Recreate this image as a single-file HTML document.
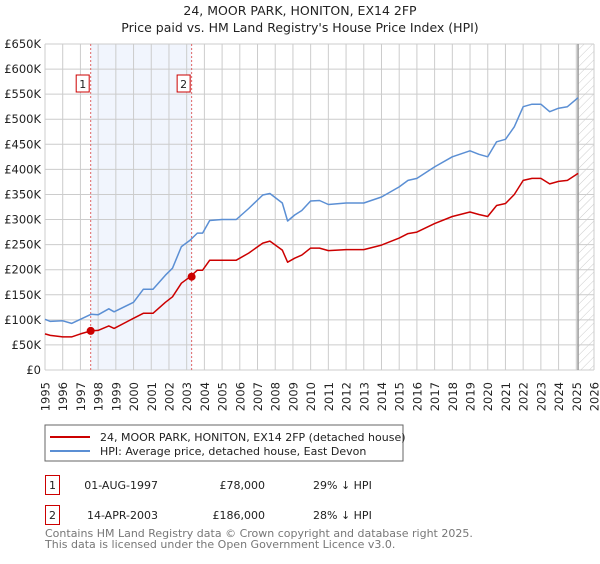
<!DOCTYPE html>
<html><head><meta charset="utf-8"><style>
body{margin:0;background:#fff;width:600px;height:560px;overflow:hidden;font-family:"DejaVu Sans","Liberation Sans",sans-serif}
svg text{font-family:"DejaVu Sans","Liberation Sans",sans-serif}
</style></head><body>
<svg id="chart" width="600" height="560" xmlns="http://www.w3.org/2000/svg">
<defs><pattern id="hatch" width="6" height="6" patternUnits="userSpaceOnUse" patternTransform="rotate(45)"><line x1="0" y1="0" x2="0" y2="6" stroke="#ccc" stroke-width="1"/></pattern></defs>
<text x="300" y="15" text-anchor="middle" font-size="12.5" fill="#222">24, MOOR PARK, HONITON, EX14 2FP</text>
<text x="300" y="32" text-anchor="middle" font-size="12.5" fill="#222">Price paid vs. HM Land Registry's House Price Index (HPI)</text>
<g id="grid"></g><g id="marks"></g><g id="axes"></g>
<rect x="45" y="425" width="358" height="36" fill="#fff" stroke="#666"/>
<line x1="50" y1="437" x2="90" y2="437" stroke="#cc0000" stroke-width="2"/>
<text x="100" y="441" font-size="11" fill="#222">24, MOOR PARK, HONITON, EX14 2FP (detached house)</text>
<line x1="50" y1="451" x2="90" y2="451" stroke="#5b8fd4" stroke-width="2"/>
<text x="100" y="455" font-size="11" fill="#222">HPI: Average price, detached house, East Devon</text>
<g font-size="11" fill="#222">
<rect x="45.5" y="475.5" width="14" height="19" fill="none" stroke="#cc0000"/>
<text x="52.5" y="489" text-anchor="middle">1</text>
<text x="158" y="489" text-anchor="end">01-AUG-1997</text>
<text x="265" y="489" text-anchor="end">£78,000</text>
<text x="313" y="489">29% ↓ HPI</text>
<rect x="45.5" y="505.5" width="14" height="19" fill="none" stroke="#cc0000"/>
<text x="52.5" y="519" text-anchor="middle">2</text>
<text x="158" y="519" text-anchor="end">14-APR-2003</text>
<text x="265" y="519" text-anchor="end">£186,000</text>
<text x="313" y="519">28% ↓ HPI</text>
</g>
<text x="45" y="537" font-size="11" fill="#777">Contains HM Land Registry data © Crown copyright and database right 2025.</text>
<text x="45" y="548" font-size="11" fill="#777">This data is licensed under the Open Government Licence v3.0.</text>
</svg>
<script>
const hpiYears=[1995,1995.3,1996,1996.5,1997,1997.6,1998,1998.6,1998.9,2000,2000.55,2001.1,2001.8,2002.2,2002.7,2003.2,2003.6,2003.9,2004.3,2005,2005.8,2006.5,2007.3,2007.7,2008.4,2008.7,2009.1,2009.5,2010,2010.5,2011,2012,2013,2014,2015,2015.5,2016,2017,2018,2019,2019.5,2020,2020.5,2021,2021.5,2022,2022.5,2023,2023.5,2024,2024.5,2025.1];
const hpiValues=[101,97,98,93,101,111,110,122,116,135,161,161,189,203,246,259,273,273,298,300,300,322,349,352,333,297,309,318,337,338,330,333,333,345,365,378,382,405,425,437,430,425,455,460,485,525,530,530,515,522,525,543];
const ppValues=[72,69,66,66,72,78,79,88,83,103,113,113,135,146,173,186,199,199,219,219,219,233,253,257,239,215,223,229,243,243,238,240,240,249,263,272,275,292,306,315,310,306,328,332,350,378,382,382,371,376,378,392];
const sales=[{n:'1',year:1997.58,value:78},{n:'2',year:2003.28,value:186}];
const yTicks=[0,50,100,150,200,250,300,350,400,450,500,550,600,650];
const yLabels=['£0','£50K','£100K','£150K','£200K','£250K','£300K','£350K','£400K','£450K','£500K','£550K','£600K','£650K'];
const xTicks=[1995,1996,1997,1998,1999,2000,2001,2002,2003,2004,2005,2006,2007,2008,2009,2010,2011,2012,2013,2014,2015,2016,2017,2018,2019,2020,2021,2022,2023,2024,2025,2026];
const dataEnd=2025.1;

const NS='http://www.w3.org/2000/svg';
const X0=45,X1=594,Y0=370,Y1=44;
const xs=y=>X0+(y-1995)/(2026-1995)*(X1-X0);
const ys=v=>Y0-v/650*(Y0-Y1);
function mk(tag,attrs,parent){const e=document.createElementNS(NS,tag);for(const k in attrs)e.setAttribute(k,attrs[k]);parent.appendChild(e);return e;}
const grid=document.getElementById('grid'),marks=document.getElementById('marks'),axes=document.getElementById('axes');

let r=mk('rect',{x:xs(sales[0].year),y:Y1,width:xs(sales[1].year)-xs(sales[0].year),height:Y0-Y1,fill:'#eef3fc',opacity:0.8},grid);


r=mk('rect',{x:xs(dataEnd),y:Y1,width:X1-xs(dataEnd),height:Y0-Y1,fill:'url(#hatch)'},grid);



yTicks.forEach((v,i)=>{
  const l=mk('line',{x1:X0,x2:X1,y1:ys(v),y2:ys(v),stroke:'#ccc','stroke-width':1},grid);
  
  
  const t=mk('text',{x:41,y:ys(v)+4,'text-anchor':'end','font-size':11.5,fill:'#222'},axes);
  t.textContent=yLabels[i];
  
  
});
xTicks.forEach(yr=>{
  const l=mk('line',{x1:xs(yr),x2:xs(yr),y1:Y1,y2:Y0,stroke:'#ccc','stroke-width':1},grid);
  
  
  const t=mk('text',{x:0,y:0,'text-anchor':'end','font-size':11.5,fill:'#222',transform:`translate(${xs(yr)+4.5},382) rotate(-90)`},axes);
  t.textContent=yr;
  
  
});
let el=mk('line',{x1:xs(dataEnd),x2:xs(dataEnd),y1:Y1,y2:Y0,stroke:'#999','stroke-width':1.5},grid);



sales.forEach(s=>{
  const l=mk('line',{x1:xs(s.year),x2:xs(s.year),y1:Y1,y2:Y0,stroke:'#e06666','stroke-width':1,'stroke-dasharray':'2,2'},marks);
  
  
});
function path(vals,color,name){
  const d=hpiYears.map((y,i)=>(i?'L':'M')+xs(y).toFixed(1)+','+ys(vals[i]).toFixed(1)).join('');
  const p=mk('path',{d:d,fill:'none',stroke:color,'stroke-width':1.5,'stroke-linejoin':'round'},marks);
  
  
}
path(hpiValues,'#5b8fd4','hpi-line');
path(ppValues,'#cc0000','price-paid-line');
sales.forEach(s=>{
  const c=mk('circle',{cx:xs(s.year),cy:ys(s.value),r:4,fill:'#cc0000'},marks);
  
  
  const b=mk('rect',{x:xs(s.year)-14.5,y:75,width:13,height:17,fill:'#fff',stroke:'#cc0000'},marks);
  
  
  const t=mk('text',{x:xs(s.year)-8,y:88,'text-anchor':'middle','font-size':11,fill:'#222'},marks);
  t.textContent=s.n;
  
  
});
</script>
</body></html>
